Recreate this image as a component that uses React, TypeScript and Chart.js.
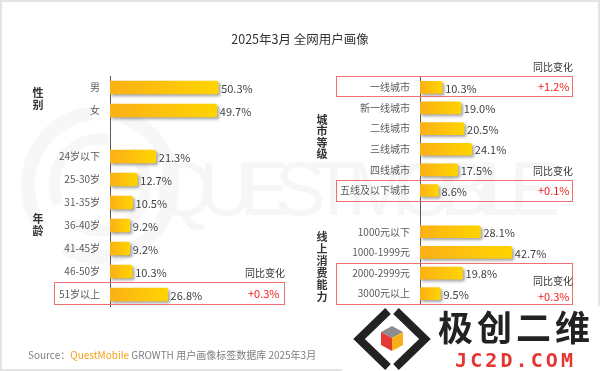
import React, { useEffect, useRef } from "react";
import { Chart, registerables } from "chart.js";
Chart.register(...registerables);

const FONT = "'Noto Sans CJK SC', 'Noto Sans', sans-serif";

// ---- data ----
const leftCategories = ["男", "女", "", "24岁以下", "25-30岁", "31-35岁", "36-40岁", "41-45岁", "46-50岁", "51岁以上"];
const leftValues: (number | null)[] = [50.3, 49.7, null, 21.3, 12.7, 10.5, 9.2, 9.2, 10.3, 26.8];

const rightCategories = ["一线城市", "新一线城市", "二线城市", "三线城市", "四线城市", "五线及以下城市", "", "1000元以下", "1000-1999元", "2000-2999元", "3000元以上"];
const rightValues: (number | null)[] = [10.3, 19.0, 20.5, 24.1, 17.5, 8.6, null, 28.1, 42.7, 19.8, 9.5];

const yoyLabels = ["+0.3%", "+1.2%", "+0.1%", "+0.3%"];
const groupLabels = ["性别", "年龄", "城市等级", "线上消费能力"];
const titleText = "2025年3月 全网用户画像";

// ---- plugins ----
const shadowPlugin = {
  id: "barShadow",
  beforeDatasetsDraw(chart: any) {
    const ctx = chart.ctx;
    ctx.save();
    ctx.shadowColor = "rgba(0,0,0,0.35)";
    ctx.shadowBlur = 3;
    ctx.shadowOffsetX = 2;
    ctx.shadowOffsetY = 2;
  },
  afterDatasetsDraw(chart: any) {
    chart.ctx.restore();
  },
};

const valueLabelPlugin = {
  id: "valueLabels",
  afterDatasetsDraw(chart: any) {
    const ctx = chart.ctx;
    const meta = chart.getDatasetMeta(0);
    const data = chart.data.datasets[0].data;
    ctx.save();
    ctx.font = `11px ${FONT}`;
    ctx.fillStyle = "#404040";
    ctx.textBaseline = "middle";
    ctx.textAlign = "left";
    meta.data.forEach((bar: any, i: number) => {
      const v = data[i];
      if (v == null) return;
      ctx.fillText(Number(v).toFixed(1) + "%", bar.x + 3, bar.y + 1);
    });
    ctx.restore();
  },
};

const gradientFill = (c: any) => {
  const chart = c.chart;
  const xs = chart.scales && chart.scales.x;
  if (!xs || c.raw == null) return "#FDBE10";
  const x0 = xs.getPixelForValue(0);
  const x1 = xs.getPixelForValue(c.raw);
  if (!isFinite(x0) || !isFinite(x1) || x1 <= x0) return "#FDBE10";
  const g = chart.ctx.createLinearGradient(x0, 0, x1, 0);
  g.addColorStop(0, "#FBB016");
  g.addColorStop(1, "#FFD400");
  return g;
};

function buildChart(canvas: HTMLCanvasElement, labels: string[], values: (number | null)[], cfg: any) {
  return new Chart(canvas, {
    type: "bar",
    data: {
      labels,
      datasets: [
        {
          data: values as any,
          backgroundColor: gradientFill as any,
          borderRadius: 2,
          borderSkipped: "left",
          barThickness: cfg.thickness,
        },
      ],
    },
    options: {
      indexAxis: "y",
      responsive: false,
      animation: false,
      devicePixelRatio: 1,
      layout: { padding: cfg.padding },
      plugins: { legend: { display: false }, tooltip: { enabled: false } },
      scales: {
        x: { display: false, min: 0, max: cfg.max },
        y: {
          grid: { display: false, drawTicks: false },
          border: { display: true, color: "#595959", width: 1 },
          ticks: { color: "#595959", font: { size: 10, family: FONT }, padding: 10, autoSkip: false },
          afterFit: (s: any) => {
            s.width = cfg.axisWidth;
          },
        },
      },
    } as any,
    plugins: [shadowPlugin, valueLabelPlugin],
  });
}

const Txt = ({ x, cy, size = 10, color = "#333", weight = 400, lh = 14, children }: any) => (
  <div
    style={{
      position: "absolute",
      left: x,
      top: cy - lh / 2,
      lineHeight: lh + "px",
      fontSize: size,
      color,
      fontWeight: weight,
      whiteSpace: "nowrap",
      fontFamily: FONT,
    }}
  >
    {children}
  </div>
);

const VLabel = ({ cx, top, lh, text }: any) => (
  <div style={{ position: "absolute", left: cx - 8, top, width: 16, textAlign: "center", fontFamily: FONT, fontSize: 11, fontWeight: 700, color: "#333" }}>
    {text.split("").map((ch: string, i: number) => (
      <div key={i} style={{ height: lh, lineHeight: lh + "px" }}>{ch}</div>
    ))}
  </div>
);

const Box = ({ x, y, w, h }: any) => (
  <div style={{ position: "absolute", left: x, top: y, width: w, height: h, border: "1px solid #EE7070", boxSizing: "border-box" }} />
);

export default function App() {
  const leftRef = useRef<HTMLCanvasElement>(null);
  const rightRef = useRef<HTMLCanvasElement>(null);

  useEffect(() => {
    const c1 = buildChart(leftRef.current!, leftCategories, leftValues, {
      padding: { left: 0, right: 310, top: 76, bottom: 65 },
      axisWidth: 110,
      max: 180 / 2.15,
      thickness: 13,
    });
    const c2 = buildChart(rightRef.current!, rightCategories, rightValues, {
      padding: { left: 300, right: 20, top: 77, bottom: 67 },
      axisWidth: 120,
      max: 160 / 2.15,
      thickness: 12,
    });
    return () => {
      c1.destroy();
      c2.destroy();
    };
  }, []);

  return (
    <div style={{ position: "absolute", left: 0, top: 0, width: 600, height: 371, background: "#fff", overflow: "hidden", fontFamily: FONT }}>
      {/* frame + faint watermark */}
      <svg width={600} height={371} style={{ position: "absolute", left: 0, top: 0 }}>
        <rect x={0} y={0} width={600} height={2} fill="#e4e4e4" />
        <rect x={0} y={0} width={2} height={371} fill="#e4e4e4" />
        <rect x={598} y={0} width={2} height={371} fill="#e4e4e4" />
        <rect x={0} y={369} width={600} height={2} fill="#e4e4e4" />
        <circle cx={100} cy={185} r={72} fill="none" stroke="#f7f7f7" strokeWidth={14} strokeDasharray="150 30" />
        <circle cx={100} cy={185} r={46} fill="none" stroke="#f7f7f7" strokeWidth={11} strokeDasharray="100 25" />
        <text x={155} y={215} fontSize={76} fill="#f6f6f6" fontFamily="'Liberation Sans', Arial, sans-serif" textLength={405} lengthAdjust="spacing">
          QUEST MOBILE
        </text>
      </svg>

      <canvas ref={leftRef} width={600} height={371} style={{ position: "absolute", left: 0, top: 0 }} />
      <canvas ref={rightRef} width={600} height={371} style={{ position: "absolute", left: 0, top: 0 }} />

      {/* title */}
      <div style={{ position: "absolute", left: 0, top: 31, width: 600, textAlign: "center", fontSize: 12.5, lineHeight: "16px", color: "#333", fontFamily: FONT }}>
        {titleText}
      </div>

      {/* group labels */}
      <VLabel cx={38} top={86} lh={12} text={groupLabels[0]} />
      <VLabel cx={38} top={212} lh={12} text={groupLabels[1]} />
      <VLabel cx={322} top={114} lh={11.4} text={groupLabels[2]} />
      <VLabel cx={322} top={230} lh={12} text={groupLabels[3]} />

      {/* highlight boxes */}
      <Box x={54} y={282} w={231} h={23} />
      <Box x={336} y={76} w={237} h={21} />
      <Box x={336} y={180} w={237} h={22} />
      <Box x={336} y={263} w={237} h={42} />

      {/* yoy */}
      <Txt x={245} cy={273} size={10}>同比变化</Txt>
      <Txt x={248} cy={293} size={11} color="#F21D1D">{yoyLabels[0]}</Txt>
      <Txt x={533} cy={67} size={10}>同比变化</Txt>
      <Txt x={538} cy={86} size={11} color="#F21D1D">{yoyLabels[1]}</Txt>
      <Txt x={533} cy={171} size={10}>同比变化</Txt>
      <Txt x={538} cy={190} size={11} color="#F21D1D">{yoyLabels[2]}</Txt>
      <Txt x={533} cy={281} size={10}>同比变化</Txt>
      <Txt x={538} cy={296} size={11} color="#F21D1D">{yoyLabels[3]}</Txt>

      {/* source */}
      <Txt x={28} cy={355} size={10} color="#7f7f7f">
        Source：<span style={{ color: "#F7A11A" }}>QuestMobile</span> GROWTH 用户画像标签数据库 2025年3月
      </Txt>

      {/* logo watermark */}
      <svg width={600} height={371} style={{ position: "absolute", left: 0, top: 0 }}>
        <rect x={342} y={306} width={258} height={65} fill="#fff" />
        <polyline points="388,311 359,339 388,367" fill="none" stroke="#222" strokeWidth={8} strokeLinejoin="miter" />
        <polyline points="396,311 425,339 396,367" fill="none" stroke="#222" strokeWidth={8} strokeLinejoin="miter" />
        <polygon points="392,326 403,332 392,338 381,332" fill="#8c8c8c" />
        <polygon points="381,332 392,338 392,351 381,345" fill="#E53935" />
        <polygon points="392,338 403,332 403,345 392,351" fill="#F9B017" />
        <text x={438} y={341} fontSize={35} fontWeight={700} fill="#222" fontFamily={FONT} textLength={152} lengthAdjust="spacing">
          极创二维
        </text>
        <text x={455} y={367} fontSize={20} fontWeight={700} fill="#E8332F" fontFamily="'DejaVu Sans Mono', monospace" textLength={118} lengthAdjust="spacing">
          JC2D.COM
        </text>
      </svg>
    </div>
  );
}
